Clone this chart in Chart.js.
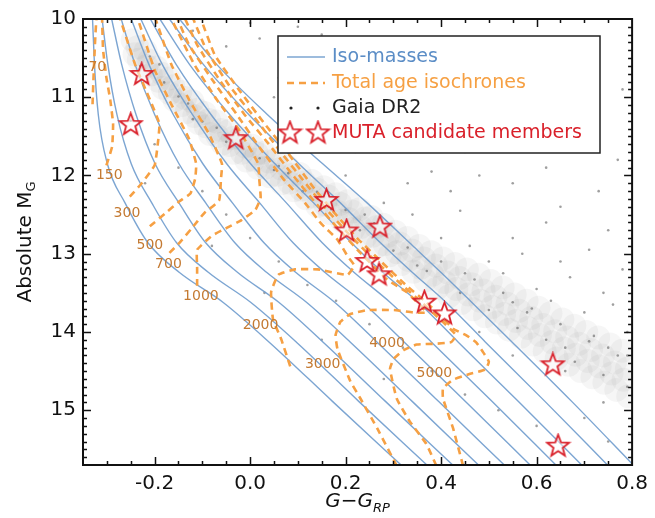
<!DOCTYPE html>
<html>
<head>
<meta charset="utf-8">
<script src="https://cdn.jsdelivr.net/npm/chart.js@4"></script>
<style>
  body { margin: 0; background: #fff; }
</style>
</head>
<body>
<canvas id="chart" width="655" height="518"></canvas>
<script>
// axis ticks
const xTicks = [-0.2, 0.0, 0.2, 0.4, 0.6, 0.8];
const yTicks = [10, 11, 12, 13, 14, 15];

// iso-mass tracks: shared magnitudes, one colour list per track
const trackY = [10.0, 10.58, 11.22, 11.85, 12.35, 12.86, 13.24, 13.62, 14.13, 14.89, 15.71];
const trackX = [
  [-0.330, -0.326, -0.318, -0.299, -0.262, -0.214, -0.148, -0.057, 0.040, 0.173, 0.318],
  [-0.310, -0.298, -0.279, -0.249, -0.206, -0.154, -0.087, 0.001, 0.097, 0.228, 0.372],
  [-0.290, -0.269, -0.239, -0.199, -0.149, -0.093, -0.026, 0.060, 0.153, 0.284, 0.426],
  [-0.270, -0.241, -0.200, -0.149, -0.093, -0.032, 0.035, 0.118, 0.210, 0.340, 0.480],
  [-0.249, -0.212, -0.161, -0.099, -0.037, 0.029, 0.096, 0.177, 0.266, 0.395, 0.534],
  [-0.229, -0.184, -0.121, -0.049, 0.020, 0.090, 0.157, 0.235, 0.323, 0.451, 0.588],
  [-0.209, -0.155, -0.082, 0.001, 0.076, 0.151, 0.218, 0.293, 0.380, 0.507, 0.642],
  [-0.189, -0.127, -0.043, 0.052, 0.133, 0.212, 0.278, 0.352, 0.436, 0.562, 0.696],
  [-0.169, -0.098, -0.003, 0.102, 0.189, 0.273, 0.340, 0.410, 0.493, 0.618, 0.750],
  [-0.148, -0.070, 0.036, 0.152, 0.245, 0.334, 0.400, 0.464, 0.549, 0.674, 0.804]
];

// total age isochrones (Myr)
const isoAges = [70, 150, 300, 500, 700, 1000, 2000, 3000, 4000, 5000];
const iso70 = [[-0.330,11.09],[-0.328,10.75],[-0.326,10.46],[-0.324,10.20],[-0.322,10.00]];
const iso150 = [[-0.301,11.87],[-0.289,11.63],[-0.287,11.34],[-0.293,11.03],[-0.301,10.75],[-0.308,10.39],[-0.310,10.00]];
const iso300 = [[-0.252,12.27],[-0.227,12.10],[-0.200,11.87],[-0.194,11.63],[-0.190,11.34],[-0.210,11.03],[-0.241,10.58],[-0.272,10.00]];
const iso500 = [[-0.210,12.65],[-0.179,12.49],[-0.148,12.33],[-0.125,12.23],[-0.115,12.04],[-0.113,11.85],[-0.128,11.53],[-0.165,11.09],[-0.200,10.65],[-0.235,10.00]];
const iso700 = [[-0.169,12.99],[-0.148,12.86],[-0.123,12.68],[-0.096,12.48],[-0.065,12.32],[-0.061,12.04],[-0.059,11.85],[-0.086,11.47],[-0.128,11.03],[-0.165,10.58],[-0.198,10.00]];
const iso1000 = [[-0.111,13.41],[-0.111,13.18],[-0.111,12.95],[-0.080,12.77],[-0.049,12.67],[-0.018,12.57],[0.011,12.44],[0.022,12.29],[0.019,12.04],[0.017,11.85],[-0.024,11.41],[-0.070,11.03],[-0.117,10.58],[-0.165,10.00]];
const iso2000 = [[0.084,14.44],[0.065,14.09],[0.048,13.84],[0.044,13.49],[0.059,13.27],[0.094,13.20],[0.142,13.20],[0.204,13.27],[0.218,13.15],[0.204,13.03],[0.183,12.82],[0.148,12.61],[0.115,12.35],[0.069,12.04],[0.022,11.66],[-0.028,11.22],[-0.080,10.77],[-0.128,10.33],[-0.152,10.00]];
const iso3000 = [[0.307,15.71],[0.266,15.23],[0.231,14.85],[0.210,14.63],[0.183,14.22],[0.179,14.04],[0.189,13.87],[0.210,13.77],[0.245,13.72],[0.301,13.72],[0.342,13.75],[0.369,13.75],[0.328,13.49],[0.287,13.33],[0.231,12.99],[0.183,12.67],[0.137,12.35],[0.090,12.00],[0.038,11.59],[-0.012,11.22],[-0.065,10.77],[-0.111,10.33],[-0.136,10.00]];
const iso4000 = [[0.390,15.71],[0.369,15.43],[0.334,15.14],[0.307,14.85],[0.293,14.47],[0.301,14.34],[0.322,14.23],[0.349,14.16],[0.390,14.15],[0.421,14.13],[0.431,14.04],[0.400,13.85],[0.359,13.62],[0.307,13.34],[0.255,13.05],[0.204,12.73],[0.158,12.42],[0.111,12.06],[0.059,11.66],[0.007,11.24],[-0.045,10.84],[-0.092,10.39],[-0.119,10.00]];
const iso5000 = [[0.446,15.71],[0.425,15.23],[0.404,14.85],[0.404,14.72],[0.425,14.61],[0.458,14.54],[0.493,14.48],[0.500,14.38],[0.487,14.25],[0.473,14.13],[0.452,14.04],[0.425,13.96],[0.411,13.87],[0.369,13.62],[0.328,13.41],[0.276,13.11],[0.224,12.80],[0.177,12.48],[0.131,12.14],[0.080,11.72],[0.028,11.32],[-0.024,10.90],[-0.074,10.46],[-0.103,10.00]];
const isoLines = [iso70, iso150, iso300, iso500, iso700, iso1000, iso2000, iso3000, iso4000, iso5000];
const isoLabelX = [-0.320, -0.295, -0.258, -0.210, -0.171, -0.103, 0.022, 0.152, 0.287, 0.386];
const isoLabelY = [10.62, 12.00, 12.48, 12.89, 13.14, 13.54, 13.92, 14.42, 14.14, 14.53];

// MUTA candidate members
const mutaX = [-0.227, -0.250, -0.030, 0.160, 0.272, 0.202, 0.245, 0.270, 0.365, 0.407, 0.634, 0.645];
const mutaY = [10.71, 11.35, 11.53, 12.32, 12.66, 12.71, 13.10, 13.27, 13.62, 13.77, 14.42, 15.46];

// Gaia DR2 sequence (band, drawn as a haze) and individual field stars
const gaiaBand = [
  [-0.246,10.27],[-0.236,10.36],[-0.242,10.45],[-0.233,10.52],
  [-0.219,10.41],[-0.211,10.53],[-0.217,10.60],[-0.208,10.71],
  [-0.196,10.62],[-0.185,10.70],[-0.192,10.79],[-0.183,10.88],
  [-0.170,10.76],[-0.161,10.86],[-0.168,10.95],[-0.158,11.04],
  [-0.146,10.93],[-0.136,11.01],[-0.143,11.10],[-0.133,11.19],
  [-0.121,11.05],[-0.110,11.16],[-0.117,11.24],[-0.108,11.33],
  [-0.095,11.20],[-0.086,11.29],[-0.093,11.37],[-0.084,11.47],
  [-0.071,11.31],[-0.061,11.42],[-0.068,11.50],[-0.058,11.59],
  [-0.045,11.43],[-0.036,11.52],[-0.043,11.61],[-0.034,11.71],
  [-0.021,11.52],[-0.010,11.63],[-0.017,11.71],[-0.008,11.81],
  [0.004,11.62],[0.014,11.72],[0.007,11.80],[0.016,11.90],
  [0.029,11.71],[0.039,11.82],[0.032,11.90],[0.041,12.01],
  [0.054,11.80],[0.065,11.91],[0.057,11.99],[0.066,12.10],
  [0.079,11.89],[0.089,11.99],[0.082,12.09],[0.092,12.19],
  [0.104,11.98],[0.114,12.09],[0.107,12.18],[0.117,12.29],
  [0.129,12.07],[0.140,12.18],[0.132,12.27],[0.141,12.39],
  [0.154,12.15],[0.164,12.27],[0.157,12.37],[0.167,12.48],
  [0.179,12.24],[0.189,12.36],[0.182,12.46],[0.192,12.58],
  [0.204,12.33],[0.214,12.46],[0.207,12.56],[0.217,12.68],
  [0.229,12.43],[0.240,12.55],[0.232,12.66],[0.241,12.79],
  [0.254,12.53],[0.264,12.66],[0.257,12.77],[0.267,12.90],
  [0.279,12.63],[0.289,12.77],[0.282,12.88],[0.292,13.02],
  [0.304,12.72],[0.314,12.87],[0.307,12.98],[0.317,13.13],
  [0.329,12.80],[0.339,12.96],[0.332,13.08],[0.342,13.23],
  [0.354,12.90],[0.364,13.06],[0.357,13.18],[0.367,13.34],
  [0.379,12.98],[0.389,13.15],[0.382,13.27],[0.392,13.44],
  [0.404,13.06],[0.414,13.24],[0.407,13.36],[0.417,13.54],
  [0.429,13.13],[0.439,13.31],[0.432,13.45],[0.442,13.63],
  [0.454,13.20],[0.464,13.39],[0.457,13.52],[0.467,13.71],
  [0.479,13.27],[0.489,13.47],[0.482,13.60],[0.492,13.80],
  [0.504,13.35],[0.514,13.55],[0.507,13.68],[0.517,13.88],
  [0.529,13.43],[0.539,13.64],[0.532,13.77],[0.542,13.97],
  [0.554,13.52],[0.564,13.73],[0.557,13.86],[0.567,14.06],
  [0.579,13.60],[0.589,13.82],[0.582,13.95],[0.592,14.16],
  [0.604,13.69],[0.614,13.91],[0.607,14.04],[0.617,14.25],
  [0.629,13.76],[0.639,13.99],[0.632,14.13],[0.642,14.34],
  [0.654,13.84],[0.664,14.07],[0.657,14.21],[0.667,14.42],
  [0.679,13.92],[0.689,14.15],[0.682,14.29],[0.692,14.50],
  [0.704,14.00],[0.714,14.23],[0.707,14.37],[0.717,14.58],
  [0.729,14.07],[0.739,14.30],[0.732,14.44],[0.742,14.65],
  [0.754,14.16],[0.764,14.39],[0.757,14.53],[0.767,14.74],
  [0.779,14.24],[0.789,14.47],[0.782,14.61],[0.792,14.82]
];
const gaiaField = [
  [-0.12,10.15],[-0.05,10.35],[0.02,10.25],[0.08,10.55],[0.15,10.2],[0.18,10.8],[0.25,10.45],
  [0.3,11.05],[0.36,10.7],[0.41,11.35],[0.47,10.95],[0.52,11.6],[0.58,11.25],[0.62,11.9],
  [0.68,11.5],[0.73,12.2],[0.77,11.8],[0.05,11.0],[0.12,11.4],[0.22,11.7],[0.33,12.1],
  [0.44,12.45],[0.55,12.8],[0.65,13.1],[0.74,13.5],[0.28,12.35],[0.4,12.8],[0.5,13.1],
  [0.6,13.45],[0.7,13.75],[0.79,14.0],[0.2,12.0],[0.1,11.65],
  [0.0,10.05],[0.1,10.1],[0.2,10.35],[0.3,10.25],[0.4,10.5],[0.5,10.4],[0.6,10.8],[0.7,10.6],
  [0.78,10.9],[0.45,11.7],[0.55,12.1],[0.65,12.4],[0.75,12.7],[0.35,11.4],[0.26,11.1],
  [0.16,10.95],[0.06,10.75],[0.48,12.0],[0.62,12.6],[0.71,12.95],[0.78,13.2],[0.57,13.0],
  [0.67,13.3],[0.76,13.65],[0.34,12.5],[0.46,12.9],[0.53,13.25],[0.63,13.6],[0.72,14.05],
  [0.79,14.3],[0.42,12.2],[0.3,11.6],[0.22,11.35],[0.13,11.05],[0.38,11.95],[0.58,13.75],
  [0.66,14.5],[0.74,14.9],[0.55,14.3],[0.48,14.0],
  [-0.25,11.3],[-0.2,11.6],[-0.15,11.9],[-0.1,12.2],[-0.05,12.5],[0.0,12.8],[0.06,13.1],
  [0.12,13.4],[0.18,13.6],[0.25,13.9],[0.32,14.2],[0.38,14.5],[0.45,14.8],[0.52,15.0],
  [0.6,15.2],[0.7,15.1],[0.75,15.4],[-0.22,12.1],[-0.08,12.9],[0.03,13.5],[0.15,14.1],[0.28,14.6],
  [-0.21,10.48],[-0.18,10.81],[-0.15,10.99],[-0.13,11.08],[-0.1,11.31],[-0.07,11.39],[-0.05,11.57],
  [-0.02,11.6],[0.02,11.78],[0.05,11.93],[0.08,11.97],[0.11,12.2],[0.14,12.21],[0.17,12.43],
  [0.2,12.44],[0.23,12.7],[0.26,12.61],[0.3,12.96],[0.33,12.92],[0.37,13.22],[0.4,13.1],
  [0.44,13.5],[0.47,13.33],[0.5,13.72],[0.53,13.5],[0.56,13.95],[0.59,13.7],[0.62,14.1],
  [0.65,13.9],[0.68,14.38],[0.71,14.12],[0.74,14.55],[0.77,14.3],[0.79,14.7],[-0.23,10.6],
  [-0.19,10.58],[-0.12,11.28],[-0.03,11.45],[0.06,11.88],[0.15,12.33],[0.24,12.5],[0.35,13.15],
  [0.45,13.25],[0.55,13.62],[0.66,14.2],[0.75,14.2]
];

const FONT = "'DejaVu Sans', sans-serif";
const BLUE = "rgba(110,155,205,0.9)";
const ORANGE = "#f6a043";
const RED = "#d9202a";

function makeStar(r) {
  const c = document.createElement("canvas");
  const s = Math.ceil(2 * r + 4);
  c.width = s; c.height = s;
  const g = c.getContext("2d");
  g.beginPath();
  for (let i = 0; i < 10; i++) {
    const rad = i % 2 === 0 ? r : r * 0.42;
    const a = -Math.PI / 2 + i * Math.PI / 5;
    const px = s / 2 + rad * Math.cos(a);
    const py = s / 2 + rad * Math.sin(a);
    i === 0 ? g.moveTo(px, py) : g.lineTo(px, py);
  }
  g.closePath();
  g.fillStyle = "rgba(255,255,255,0.55)";
  g.fill();
  g.lineWidth = 1.8;
  g.strokeStyle = RED;
  g.stroke();
  return c;
}
const starImg = makeStar(11.5);

const datasets = [];
datasets.push({
  label: "MUTA candidate members",
  data: mutaX.map((v, i) => ({ x: v, y: mutaY[i] })),
  pointStyle: starImg,
  pointRadius: 11,
  showLine: false,
  order: 0
});
isoLines.forEach((line, i) => {
  datasets.push({
    label: i === 0 ? "Total age isochrones" : "",
    data: line.map(p => ({ x: p[0], y: p[1] })),
    showLine: true,
    borderColor: ORANGE,
    borderWidth: 2.6,
    borderDash: [7, 5],
    pointRadius: 0,
    tension: 0.12,
    order: 1
  });
});
trackX.forEach((xs, i) => {
  datasets.push({
    label: i === 0 ? "Iso-masses" : "",
    data: xs.map((v, j) => ({ x: v, y: trackY[j] })),
    showLine: true,
    borderColor: BLUE,
    borderWidth: 1.4,
    pointRadius: 0,
    cubicInterpolationMode: "monotone",
    order: 2
  });
});
const gaiaStyle = { borderWidth: 0, showLine: false, pointHoverRadius: 0 };
datasets.push(Object.assign({
  label: "Gaia DR2",
  data: gaiaField.map(p => ({ x: p[0], y: p[1] })),
  pointRadius: 1.3,
  backgroundColor: "rgba(95,95,95,0.6)",
  order: 3
}, gaiaStyle));
datasets.push(Object.assign({
  label: "",
  data: gaiaBand.map(p => ({ x: p[0], y: p[1] })),
  pointRadius: 12,
  backgroundColor: "rgba(95,95,95,0.06)",
  order: 4
}, gaiaStyle));

// inward ticks on all four sides, frame and axis titles
const framePlugin = {
  id: "frame",
  afterDraw(chart) {
    const { ctx, chartArea: a, scales: { x, y } } = chart;
    ctx.save();
    ctx.strokeStyle = "#111";
    ctx.lineWidth = 1.5;
    ctx.beginPath();
    for (let i = -6; i <= 16; i++) {
      const v = i * 0.05;
      const px = Math.round(x.getPixelForValue(v)) + 0.5;
      if (px < a.left + 1 || px > a.right - 1) continue;
      const len = i % 4 === 0 ? 8 : 4;
      ctx.moveTo(px, a.bottom); ctx.lineTo(px, a.bottom - len);
      ctx.moveTo(px, a.top); ctx.lineTo(px, a.top + len);
    }
    for (let i = 100; i <= 157; i++) {
      const v = i / 10;
      const py = Math.round(y.getPixelForValue(v)) + 0.5;
      if (py < a.top + 1 || py > a.bottom - 1) continue;
      const len = i % 10 === 0 ? 8 : 4;
      ctx.moveTo(a.left, py); ctx.lineTo(a.left + len, py);
      ctx.moveTo(a.right, py); ctx.lineTo(a.right - len, py);
    }
    ctx.stroke();
    ctx.lineWidth = 2;
    ctx.strokeRect(a.left, a.top, a.right - a.left, a.bottom - a.top);

    ctx.fillStyle = "#111";
    ctx.textBaseline = "alphabetic";
    ctx.font = "italic 20px " + FONT;
    const main = "G\u2212G";
    const wMain = ctx.measureText(main).width;
    ctx.font = "italic 13px " + FONT;
    const wSub = ctx.measureText("RP").width;
    const sx = (a.left + a.right) / 2 - (wMain + wSub) / 2;
    ctx.font = "italic 20px " + FONT;
    ctx.fillText(main, sx, 507);
    ctx.font = "italic 13px " + FONT;
    ctx.fillText("RP", sx + wMain, 512);

    ctx.save();
    ctx.translate(31, (a.top + a.bottom) / 2);
    ctx.rotate(-Math.PI / 2);
    ctx.font = "20px " + FONT;
    const t1 = "Absolute M";
    const w1 = ctx.measureText(t1).width;
    ctx.font = "13px " + FONT;
    const w2 = ctx.measureText("G").width;
    const start = -(w1 + w2) / 2;
    ctx.font = "20px " + FONT;
    ctx.fillText(t1, start, 0);
    ctx.font = "13px " + FONT;
    ctx.fillText("G", start + w1, 4);
    ctx.restore();
    ctx.restore();
  }
};

// isochrone age labels and the legend box
const overlayPlugin = {
  id: "overlay",
  afterDatasetsDraw(chart) {
    const { ctx, scales: { x, y } } = chart;
    ctx.save();
    ctx.font = "14px " + FONT;
    ctx.fillStyle = "#c47a32";
    ctx.textAlign = "center";
    ctx.textBaseline = "middle";
    isoAges.forEach((age, i) => {
      ctx.fillText(String(age), x.getPixelForValue(isoLabelX[i]), y.getPixelForValue(isoLabelY[i]));
    });

    const bx = 278, by = 36, bw = 322, bh = 117;
    ctx.fillStyle = "#fff";
    ctx.fillRect(bx, by, bw, bh);
    ctx.strokeStyle = "#222";
    ctx.lineWidth = 1.5;
    ctx.strokeRect(bx, by, bw, bh);
    ctx.textAlign = "left";
    ctx.font = "19px " + FONT;
    const tx = 332;
    const rows = [57, 83, 108, 133];

    ctx.strokeStyle = BLUE; ctx.lineWidth = 1.6;
    ctx.beginPath(); ctx.moveTo(287, rows[0]); ctx.lineTo(325, rows[0]); ctx.stroke();
    ctx.fillStyle = "#5b8dc6";
    ctx.fillText("Iso-masses", tx, rows[0]);

    ctx.strokeStyle = ORANGE; ctx.lineWidth = 2.6; ctx.setLineDash([7, 5]);
    ctx.beginPath(); ctx.moveTo(287, rows[1]); ctx.lineTo(325, rows[1]); ctx.stroke();
    ctx.setLineDash([]);
    ctx.fillStyle = ORANGE;
    ctx.fillText("Total age isochrones", tx, rows[1]);

    ctx.fillStyle = "#222";
    [291, 318].forEach(px => { ctx.beginPath(); ctx.arc(px, rows[2], 1.6, 0, Math.PI * 2); ctx.fill(); });
    ctx.fillText("Gaia DR2", tx, rows[2]);

    [290, 318].forEach(px => ctx.drawImage(starImg, px - starImg.width / 2, rows[3] - starImg.height / 2));
    ctx.fillStyle = RED;
    ctx.fillText("MUTA candidate members", tx, rows[3]);
    ctx.restore();
  }
};

const config = {
  type: "scatter",
  data: { datasets: datasets },
  options: {
    responsive: false,
    animation: false,
    devicePixelRatio: 1,
    layout: { padding: { top: 13, right: 18, left: 0, bottom: 0 } },
    plugins: { legend: { display: false }, tooltip: { enabled: false } },
    scales: {
      x: {
        type: "linear",
        min: -0.35,
        max: 0.8,
        grid: { display: false, drawTicks: false },
        border: { display: false },
        afterBuildTicks: (s) => { s.ticks = xTicks.map(v => ({ value: v })); },
        afterFit: (s) => { s.height = 53; },
        ticks: {
          padding: 7,
          color: "#111",
          font: { family: FONT, size: 20 },
          callback: (v) => v.toFixed(1)
        }
      },
      y: {
        type: "linear",
        reverse: true,
        min: 10,
        max: 15.7,
        grid: { display: false, drawTicks: false },
        border: { display: false },
        afterBuildTicks: (s) => { s.ticks = yTicks.map(v => ({ value: v })); },
        afterFit: (s) => { s.width = 83; },
        ticks: {
          padding: 7,
          color: "#111",
          font: { family: FONT, size: 20 },
          callback: (v) => String(v)
        }
      }
    }
  },
  plugins: [overlayPlugin, framePlugin]
};

const chart = new Chart(document.getElementById("chart").getContext("2d"), config);
</script>
</body>
</html>
